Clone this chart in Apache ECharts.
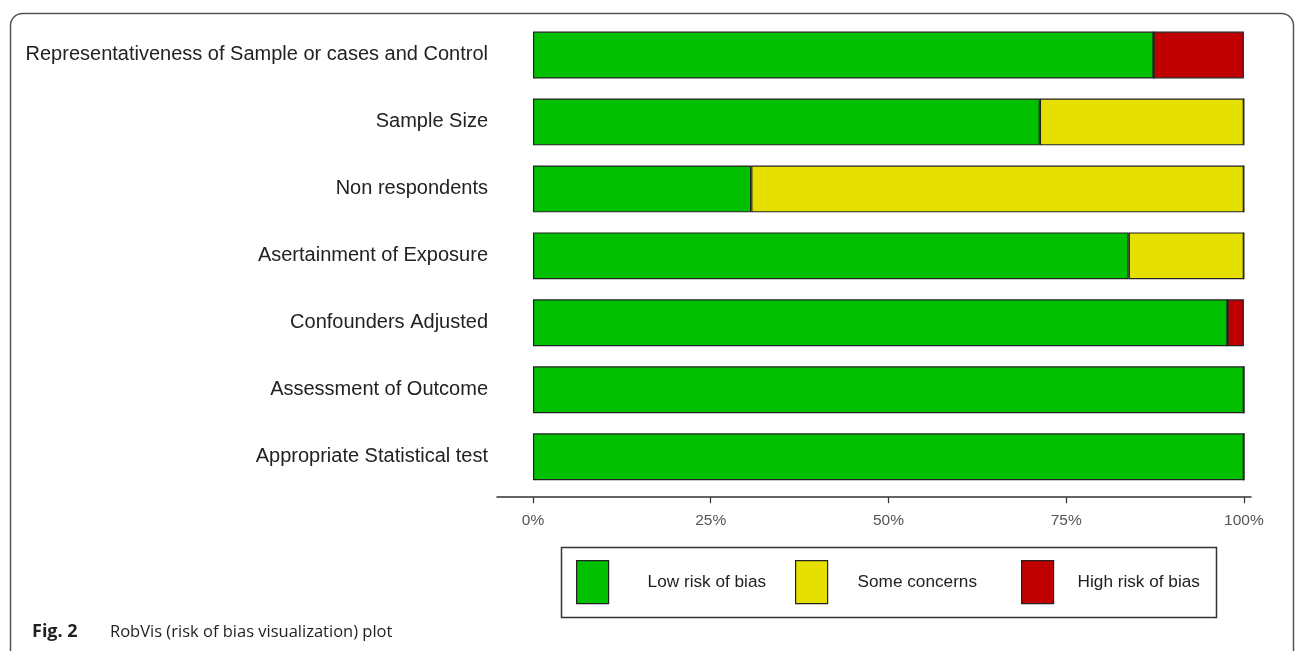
<!DOCTYPE html>
<html>
<head>
<meta charset="utf-8">
<script src="https://cdn.jsdelivr.net/npm/echarts@6/dist/echarts.min.js"></script>
<style>
html,body{margin:0;padding:0;background:#fff;}
#chart{width:1295px;height:651px;}
</style>
</head>
<body>
<div id="chart"></div>
<script>
const categories = [
  'Representativeness of Sample or cases and Control',
  'Sample Size',
  'Non respondents',
  'Asertainment of Exposure',
  'Confounders Adjusted',
  'Assessment of Outcome',
  'Appropriate Statistical test'
];
const lowRisk = [87.3, 71.3, 30.7, 83.8, 97.7, 100, 100];
const someConcerns = [0, 28.7, 69.3, 16.2, 0, 0, 0];
const highRisk = [12.7, 0, 0, 0, 2.3, 0, 0];
const tickValues = [0, 25, 50, 75, 100];
const seriesNames = ['Low risk of bias', 'Some concerns', 'High risk of bias'];
const colors = ['#00C000', '#E5E000', '#C00000'];

const chart = echarts.init(document.getElementById('chart'), null, {renderer: 'canvas'});
const mk = (name, data, color) => ({
  name, type: 'bar', stack: 'total', data, barWidth: '70%',
  itemStyle: {color, borderColor: '#222', borderWidth: 1.2},
  emphasis: {disabled: true}
});
const legendPos = [[576, 34], [795, 25], [1021, 19]];
const legends = seriesNames.map((n, i) => ({
  data: [n], left: legendPos[i][0], top: 560, padding: 0,
  icon: 'rect', itemWidth: 32, itemHeight: 43, selectedMode: false,
  textStyle: {color: '#222', fontFamily: 'Liberation Sans, Arial', fontSize: 17.2, padding: [0, 0, 0, legendPos[i][1]]},
  itemStyle: {borderColor: '#222', borderWidth: 1.2}
}));
chart.setOption({
  animation: false,
  backgroundColor: '#fff',
  grid: {left: 497, right: 44, top: 21.5, bottom: 160.8, containLabel: false},
  xAxis: {
    type: 'value', min: -5.06, max: 101, offset: 7,
    splitLine: {show: false},
    axisLine: {show: true, lineStyle: {color: '#333', width: 1.5}},
    axisTick: {show: true, customValues: tickValues, length: 6, lineStyle: {color: '#333', width: 1.2}},
    axisLabel: {customValues: tickValues, formatter: v => v + '%', color: '#555',
      fontFamily: 'Liberation Sans, Arial', fontSize: 15.5, margin: 16}
  },
  yAxis: {
    type: 'category', data: categories, inverse: true,
    axisLine: {show: false}, axisTick: {show: false},
    axisLabel: {color: '#222', fontFamily: 'Liberation Sans, Arial', fontSize: 20, margin: 9}
  },
  legend: legends,
  graphic: [
    {type: 'rect', shape: {x: 10.5, y: 13.5, width: 1283, height: 700, r: 12},
      style: {fill: 'none', stroke: '#555', lineWidth: 1.5}, silent: true},
    {type: 'rect', shape: {x: 561.5, y: 547.5, width: 655, height: 70},
      style: {fill: 'none', stroke: '#333', lineWidth: 1.5}, silent: true},
    {type: 'text', left: 32, top: 623,
      style: {text: 'Fig. 2', fontFamily: 'Open Sans', fontWeight: 'bold', fontSize: 18, fill: '#231f20'}},
    {type: 'text', left: 110, top: 624,
      style: {text: 'RobVis (risk of bias visualization) plot', fontFamily: 'Open Sans', fontSize: 16.5, fill: '#231f20'}}
  ],
  series: [
    mk(seriesNames[0], lowRisk, colors[0]),
    mk(seriesNames[1], someConcerns, colors[1]),
    mk(seriesNames[2], highRisk, colors[2])
  ]
});
</script>
</body>
</html>
